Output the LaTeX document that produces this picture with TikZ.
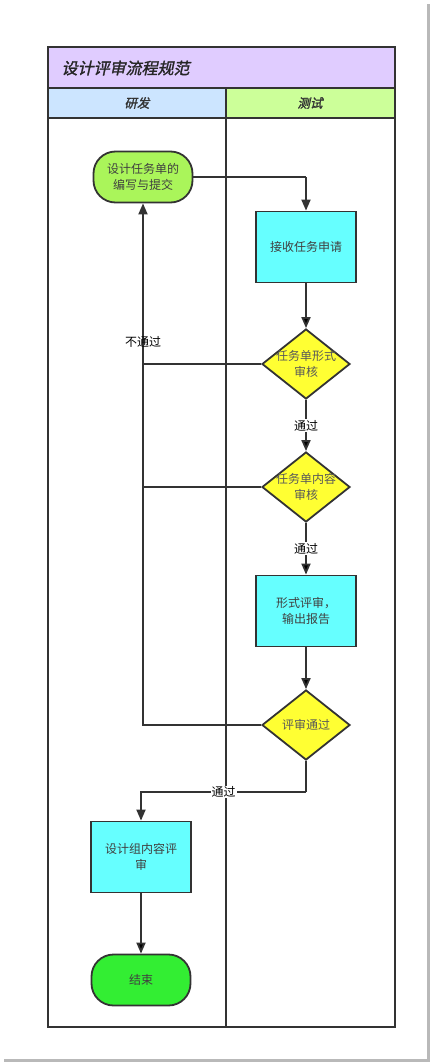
\documentclass[tikz,border=0pt]{standalone}
\usepackage{fontspec}
\setmainfont{Noto Sans CJK SC}
\newfontfamily\cjkslant[FakeSlant=0.22,FakeBold=1.6]{Noto Sans CJK SC}
\usetikzlibrary{positioning, arrows.meta, shapes.geometric}

\definecolor{lineclr}{HTML}{333333}
\definecolor{titlebg}{HTML}{E0CCFF}
\definecolor{devbg}{HTML}{CCE5FF}
\definecolor{testbg}{HTML}{CCFF99}
\definecolor{startbg}{HTML}{AAF55A}
\definecolor{endbg}{HTML}{33EE33}
\definecolor{taskbg}{HTML}{66FFFF}
\definecolor{checkbg}{HTML}{FFFF33}

\tikzset{
  flowline/.style={draw=lineclr, line width=1.8pt},
  task/.style={rectangle, flowline, fill=taskbg, minimum width=100pt, minimum height=71pt,
    align=center, text=black!75, font=\fontsize{12}{16}\selectfont},
  terminal/.style={rectangle, rounded corners=22pt, flowline, fill=startbg, minimum width=99pt,
    minimum height=51pt, align=center, text=black!75, font=\fontsize{12}{16}\selectfont},
  check/.style={diamond, flowline, fill=checkbg, minimum width=88pt, minimum height=70pt,
    inner sep=0pt},
  checktext/.style={align=center, text=black!65, font=\fontsize{12}{16}\selectfont},
  passlabel/.style={fill=white, inner sep=1pt, font=\fontsize{12}{14}\selectfont},
}

\begin{document}
\begin{tikzpicture}[x=1pt, y=-1pt, >={Triangle[length=11pt,width=9pt]}, node distance=120pt]
  \useasboundingbox (0,0) rectangle (431,1063);
  % screenshot shadow
  \draw[gray!55, line width=3pt] (428.5,4) -- (428.5,1060.5) -- (4,1060.5);

  % pool and lanes
  \fill[titlebg] (48,47) rectangle (395,88);
  \fill[devbg] (48,88) rectangle (226,118);
  \fill[testbg] (226,88) rectangle (395,118);
  \draw[flowline] (48,47) rectangle (395,1027);
  \draw[flowline] (48,88) -- (395,88);
  \draw[flowline] (48,118) -- (395,118);
  \draw[flowline] (226,88) -- (226,1027);
  \node[anchor=west, text=black!85, font=\cjkslant\fontsize{16}{18}\selectfont] (title) at (58,68) {设计评审流程规范};
  \node[text=black!80, font=\cjkslant\fontsize{12.5}{14}\selectfont] (devlane) at (137,103) {研发};
  \node[text=black!80, font=\cjkslant\fontsize{12.5}{14}\selectfont] (testlane) at (310,103) {测试};

  % steps
  \node[terminal] (submit) at (143,177) {设计任务单的\\编写与提交};
  \node[task] (receive) at (306,247) {接收任务申请};
  \node[check, label={[checktext]center:任务单形式\\审核}] (formchk) [below of=receive, node distance=117pt] {};
  \node[check, label={[checktext]center:任务单内容\\审核}] (contchk) [below of=formchk, node distance=123pt] {};
  \node[task] (review) [below of=contchk, node distance=124pt] {形式评审，\\输出报告};
  \node[check, label={[checktext]center:评审通过}] (passchk) [below of=review, node distance=114pt] {};
  \node[task] (groupreview) at (141,857) {设计组内容评\\审};
  \node[terminal, fill=endbg] (finish) [below of=groupreview, node distance=123pt] {结束};
  \coordinate (turn) at (306,792);

  \path[flowline, ->]
    (submit) edge[-] (submit.east -| receive.north)
    (receive) edge (formchk)
    (formchk) edge node[passlabel] {通过} (contchk)
    (contchk) edge node[passlabel] {通过} (review)
    (review) edge (passchk)
    (groupreview) edge (finish);
  \draw[flowline, ->] (submit.east -| receive.north) -- (receive.north);
  \draw[flowline] (formchk.west) -- (formchk.west -| submit.south);
  \draw[flowline] (contchk.west) -- (contchk.west -| submit.south);
  \draw[flowline, ->] (passchk.west) -| node[pos=0.867, font=\fontsize{12}{14}\selectfont] {不通过} (submit.south);
  \draw[flowline] (passchk.south) -- (turn);
  \draw[flowline, ->] (turn) -| node[passlabel, pos=0.25] {通过} (groupreview.north);
\end{tikzpicture}
\end{document}
